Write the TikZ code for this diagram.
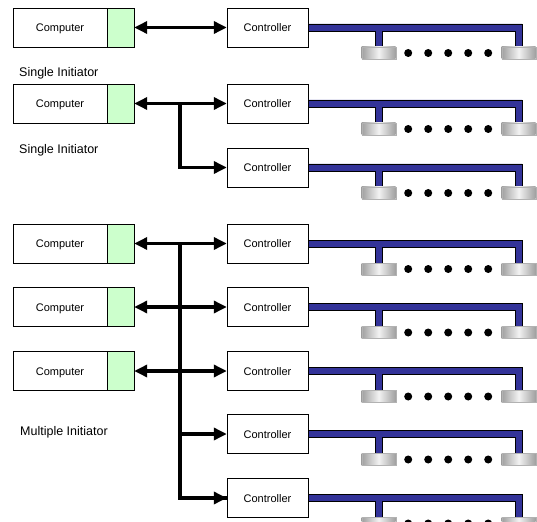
\documentclass[tikz,border=0pt]{standalone}
\usepackage{fontspec}
\setmainfont{Liberation Sans}
\usetikzlibrary{arrows.meta, positioning, calc}
\definecolor{portgreen}{RGB}{204, 255, 204}
\definecolor{busblue}{RGB}{51, 51, 153}

\begin{document}
\begin{tikzpicture}[
  x=1pt, y=-1pt,
  comp/.style={rectangle, draw, fill=white, minimum width=94pt, minimum height=39pt,
    inner sep=0pt, text height=8pt, text depth=0pt, font=\fontsize{11}{13}\selectfont},
  port/.style={rectangle, draw, fill=portgreen, minimum width=27pt, minimum height=39pt, inner sep=0pt},
  ctrl/.style={rectangle, draw, fill=white, minimum width=81pt, minimum height=39pt,
    inner sep=0pt, text height=8pt, text depth=0pt, font=\fontsize{11}{13}\selectfont},
  caption/.style={anchor=west, inner sep=0pt, font=\fontsize{12.5}{14}\selectfont},
  arrow/.style={-{Triangle[length=13pt, width=12pt]}, line width=3.5pt},
  biarrow/.style={{Triangle[length=13pt, width=12pt]}-{Triangle[length=13pt, width=12pt]}, line width=3.5pt},
  disk/.style={left color=gray!75, right color=gray!75, middle color=gray!10, draw=gray!60, line width=0.4pt},
  bus/.pic={
    \draw[fill=busblue, line width=0.6pt] (0,-3.5) -- (214,-3.5) -- (214,19.5) -- (207,19.5) -- (207,3.5)
      -- (74,3.5) -- (74,19.5) -- (67,19.5) -- (67,3.5) -- (0,3.5) -- cycle;
    \shade[disk] (53.5,19.5) rectangle (87.5,31.5);
    \shade[disk] (193.5,19.5) rectangle (227.5,31.5);
    \foreach \dx in {100,120,140,160,180} \fill (\dx,25.5) circle (4pt);
  }
]
\useasboundingbox (0,0) rectangle (537,521);

% Group 1: one computer, one controller
\node[comp] (pc1) at (60,27.5) {Computer};
\node[port] (port1) at (120.5,27.5) {};
\node[ctrl] (ctrl1) at (267.5,27.5) {Controller};
\node[caption] (lab1) at (19,73) {Single Initiator};
\draw[biarrow] (port1.east) -- (ctrl1.west);

% Group 2: one computer, two controllers
\node[comp] (pc2) at (60,103.5) {Computer};
\node[port] (port2) at (120.5,103.5) {};
\node[ctrl] (ctrl2) at (267.5,103.5) {Controller};
\node[ctrl] (ctrl3) at (267.5,167.5) {Controller};
\node[caption] (lab2) at (19,150) {Single Initiator};
\coordinate (j2) at (180,103.5);
\draw[arrow] (j2) -- (port2.east);
\draw[arrow] (j2) -- (ctrl2.west);
\draw[arrow] (j2) |- (ctrl3.west);

% Group 3: three computers, five controllers
\node[comp] (pc3) at (60,243.5) {Computer};
\node[port] (port3) at (120.5,243.5) {};
\node[comp] (pc4) at (60,307) {Computer};
\node[port] (port4) at (120.5,307) {};
\node[comp] (pc5) at (60,371) {Computer};
\node[port] (port5) at (120.5,371) {};
\node[ctrl] (ctrl4) at (267.5,243.5) {Controller};
\node[ctrl] (ctrl5) at (267.5,307) {Controller};
\node[ctrl] (ctrl6) at (267.5,371) {Controller};
\node[ctrl] (ctrl7) at (267.5,434) {Controller};
\node[ctrl] (ctrl8) at (267.5,498) {Controller};
\node[caption] (lab3) at (20,432) {Multiple Initiator};
\coordinate (j3) at (180,243.5);
\draw[line width=3.5pt] (j3) |- (ctrl8.west);
\draw[arrow] (j3) -- (port3.east);
\draw[arrow] (j3) -- (ctrl4.west);
\draw[biarrow] (port4.east) -- (ctrl5.west);
\draw[biarrow] (port5.east) -- (ctrl6.west);
\draw[arrow] (j3 |- ctrl7.west) -- (ctrl7.west);
\draw[arrow] (j3) |- (ctrl8.west);

% Buses with drives
\foreach \c in {ctrl1,ctrl2,ctrl3,ctrl4,ctrl5,ctrl6,ctrl7,ctrl8}
  \pic at (\c.east) {bus};

\end{tikzpicture}
\end{document}
